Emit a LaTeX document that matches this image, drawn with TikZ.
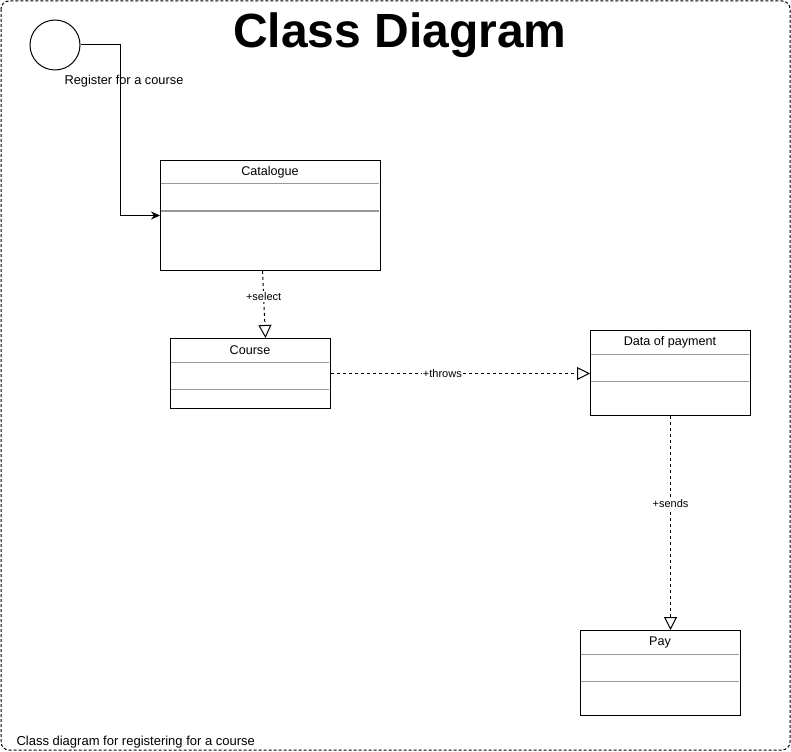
\documentclass[tikz,border=0pt]{standalone}
\usepackage{fontspec}
\setmainfont{Liberation Sans}
\usetikzlibrary{arrows.meta}

\tikzset{
  classbox/.style={draw, line width=1pt, anchor=north west, inner sep=0pt},
  classname/.style={font=\fontsize{12.6pt}{14pt}\selectfont, inner sep=0pt},
  divider/.style={draw=black!40, line width=1pt},
  depend/.style={line width=1pt, dash pattern=on 3pt off 3pt,
    -{Triangle[open, length=13pt, width=13pt]}},
  deplabel/.style={font=\fontsize{11pt}{13pt}\selectfont, fill=white, inner sep=1pt},
  flow/.style={line width=1pt, -{Stealth[length=9pt, width=8pt]}}
}

\begin{document}
\begin{tikzpicture}[x=1pt, y=-1pt]
    \useasboundingbox (0,0) rectangle (791,751);

    % frame and captions
    \draw[line width=1pt, dash pattern=on 3pt off 2pt, rounded corners=8pt] (1,1) rectangle (790,750);
    \node[font=\bfseries\fontsize{48pt}{50pt}\selectfont, anchor=base] (title) at (400,48) {Class Diagram};
    \node[font=\fontsize{13pt}{15pt}\selectfont, anchor=base west] (caption) at (13,745) {Class diagram for registering for a course};

    % start
    \node[draw, circle, line width=1pt, minimum size=50pt, inner sep=0pt] (start) at (55,45) {};
    \node[font=\fontsize{12.8pt}{15pt}\selectfont, inner sep=0pt] (startlabel) at (124,81) {Register for a course};

    % classes
    \node[classbox, minimum width=220pt, minimum height=110pt] (catalogue) at (160,160) {};
    \node[classname] at (270,172) {Catalogue};
    \draw[divider] (161,184) -- (379,184);
    \draw[divider] (161,211) -- (379,211);

    \node[classbox, minimum width=160pt, minimum height=70pt] (course) at (170,338) {};
    \node[classname] at (250,350) {Course};
    \draw[divider] (171,362) -- (329,362);
    \draw[divider] (171,389) -- (329,389);

    \node[classbox, minimum width=160pt, minimum height=85pt] (payment) at (590,330) {};
    \node[classname] at (670,342) {Data of payment};
    \draw[divider] (591,354) -- (749,354);
    \draw[divider] (591,381) -- (749,381);

    \node[classbox, minimum width=160pt, minimum height=85pt] (pay) at (580,630) {};
    \node[classname] at (660,642) {Pay};
    \draw[divider] (581,654) -- (739,654);
    \draw[divider] (581,681) -- (739,681);

    % connectors
    \coordinate (bend) at (120,45);
    \draw[flow] (start.east) -- (bend) |- (catalogue.west);
    \draw[depend] ([xshift=-8pt]catalogue.south) -- ([xshift=15pt]course.north)
        node[deplabel, pos=0.38] {+select};
    \draw[depend] (course.east) -- (payment.west |- course.east)
        node[deplabel, pos=0.43] {+throws};
    \draw[depend] (payment.south) -- (payment.south |- pay.north)
        node[deplabel, pos=0.41] {+sends};
\end{tikzpicture}
\end{document}
